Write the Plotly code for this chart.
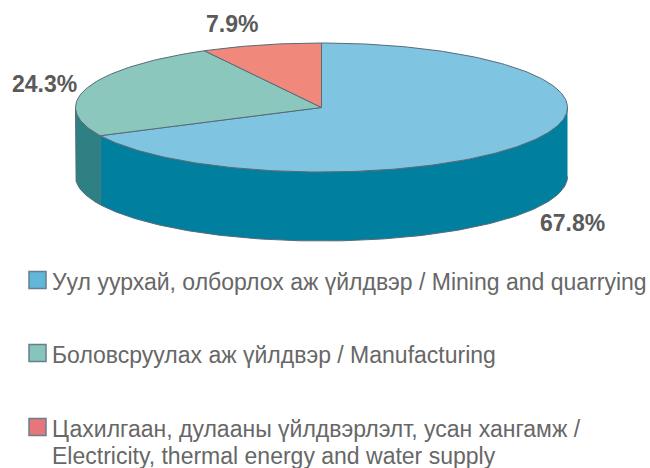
import numpy as np
import plotly.graph_objects as go

categories = ["Mining and quarrying", "Manufacturing", "Electricity, thermal energy and water supply"]
values = [67.8, 24.3, 7.9]
top_colors = ["#7FC4E0", "#8CC7BE", "#F0897B"]
wall_colors = ["#007F9F", "#2E8083", "#B5584F"]
swatch_colors = ["#62B6DA", "#86C4BC", "#E8757A"]
legend_lines = [
    ["Уул уурхай, олборлох аж үйлдвэр / Mining and quarrying"],
    ["Боловсруулах аж үйлдвэр / Manufacturing"],
    ["Цахилгаан, дулааны үйлдвэрлэлт, усан хангамж /", "Electricity, thermal energy and water supply"],
]
label_pos = [(232, 24), (44, 84), (572, 223)]
label_values = [values[2], values[1], values[0]]
legend_y = [[282], [355], [429, 456]]

W, H = 650, 468
CX, CY, RX, RY = 321.5, 107.5, 246.0, 64.5
DEPTH = 69 / RY
OUTLINE = "#566B78"
LABEL_TEXT = "#5A5A5A"
LEGEND_TEXT = "#676767"

fig = go.Figure()
edges = np.concatenate([[0], np.cumsum(values)]) / sum(values) * 2 * np.pi


def arc(a, b):
    n = max(2, int(abs(b - a) * 60))
    return np.linspace(a, b, n)


# side walls: only the front half of the pie (pi/2 to 3pi/2, clockwise from 12 o'clock)
for i in range(len(values)):
    a, b = max(edges[i], np.pi / 2), min(edges[i + 1], 3 * np.pi / 2)
    if a >= b:
        continue
    t = arc(a, b)
    x = np.concatenate([np.sin(t), np.sin(t[::-1])])
    y = np.concatenate([np.cos(t), np.cos(t[::-1]) - DEPTH])
    fig.add_trace(go.Scatter(x=x, y=y, mode="lines", fill="toself", fillcolor=wall_colors[i],
                             line=dict(color=OUTLINE, width=1), hoverinfo="skip", showlegend=False))

# top surface slices
for i in range(len(values)):
    t = arc(edges[i], edges[i + 1])
    x = np.concatenate([[0], np.sin(t), [0]])
    y = np.concatenate([[0], np.cos(t), [0]])
    fig.add_trace(go.Scatter(x=x, y=y, mode="lines", fill="toself", fillcolor=top_colors[i],
                             line=dict(color=OUTLINE, width=1), name=categories[i],
                             text=f"{values[i]}%", hoverinfo="name+text", showlegend=False))

annotations = []
for v, (px, py) in zip(label_values, label_pos):
    annotations.append(dict(x=px / W, y=1 - py / H, xref="paper", yref="paper", text=f"{v}%",
                            showarrow=False, xanchor="center", yanchor="middle",
                            font=dict(family="Liberation Sans", size=23, color=LABEL_TEXT, weight="bold")))

shapes = []
for lines, ys, color in zip(legend_lines, legend_y, swatch_colors):
    for line, py in zip(lines, ys):
        annotations.append(dict(x=50 / W, y=1 - py / H, xref="paper", yref="paper", text=line,
                                showarrow=False, xanchor="left", yanchor="middle",
                                font=dict(family="Liberation Sans", size=23, color=LEGEND_TEXT)))
    py = ys[0] - 2
    shapes.append(dict(type="rect", xref="paper", yref="paper", x0=29 / W, x1=46 / W,
                       y0=1 - (py + 8.5) / H, y1=1 - (py - 8.5) / H, fillcolor=color,
                       line=dict(color="#64808C", width=1.5)))

fig.update_layout(
    width=W, height=H, margin=dict(l=0, r=0, t=0, b=0),
    paper_bgcolor="white", plot_bgcolor="white", showlegend=False,
    xaxis=dict(visible=False, range=[-CX / RX, (W - CX) / RX], fixedrange=True),
    yaxis=dict(visible=False, range=[-(H - CY) / RY, CY / RY], fixedrange=True),
    annotations=annotations, shapes=shapes,
)
fig.write_html("out.html", config={"displayModeBar": False},
               post_script="document.body.style.margin='0';document.body.style.overflow='hidden';")
